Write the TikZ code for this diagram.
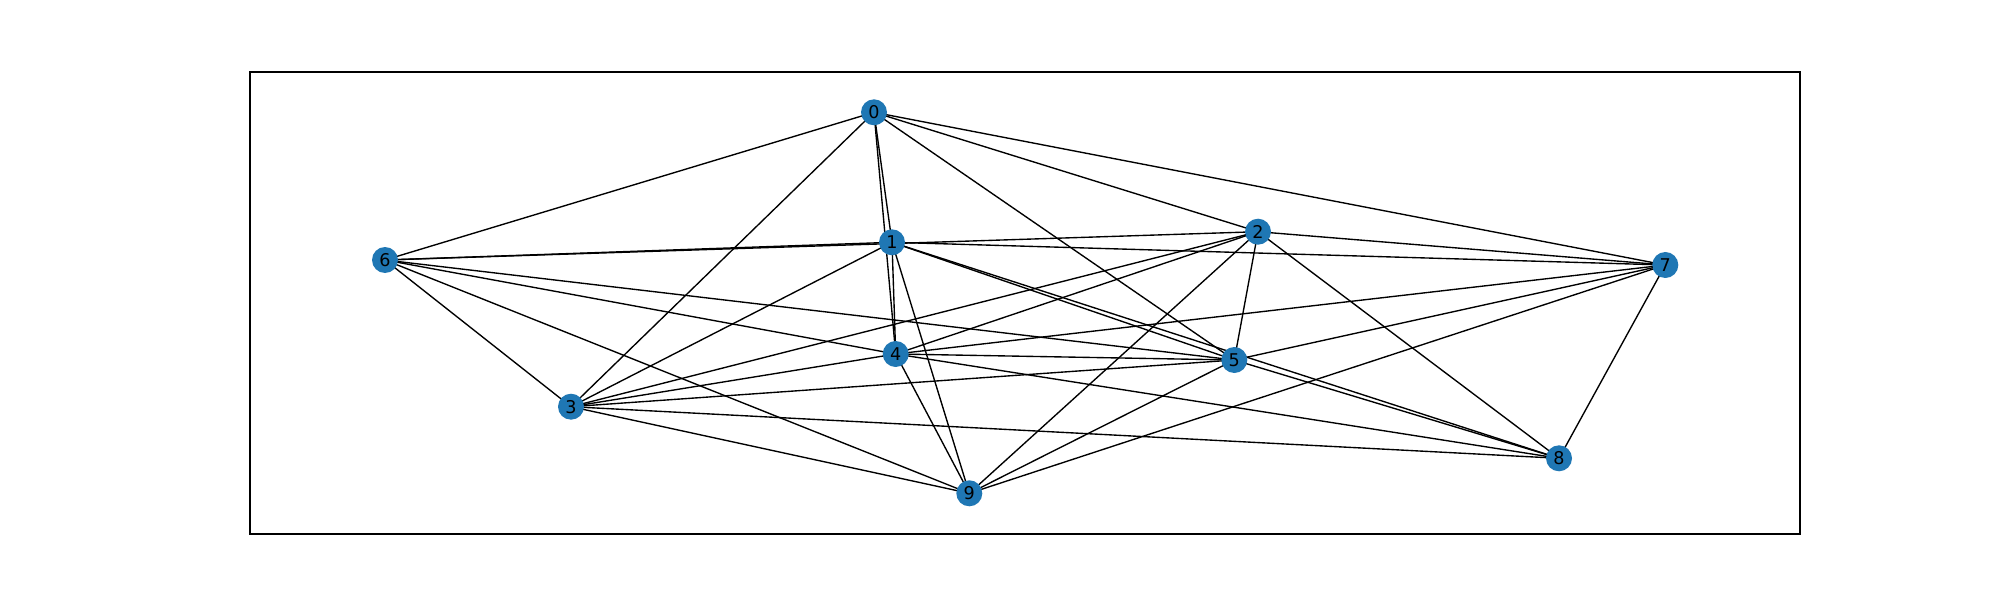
\documentclass[tikz,border=0pt]{standalone}
\usepackage{fontspec}
\setmainfont{DejaVu Sans}
\usetikzlibrary{backgrounds}
\definecolor{nodeblue}{HTML}{1F77B4}
\tikzset{
  vert/.style={circle, fill=nodeblue, inner sep=0pt, minimum size=0.26cm,
    font=\fontsize{5}{5}\selectfont},
  link/.style={draw, line width=0.39pt}
}
\begin{document}
\begin{tikzpicture}
\useasboundingbox (0,0) rectangle (20,6);
\draw[line width=0.31pt] (2.5,0.66) rectangle (18,5.28);
\node[vert] (0) at (8.74,4.877) {0};
\node[vert] (1) at (8.92,3.577) {1};
\node[vert] (2) at (12.58,3.683) {2};
\node[vert] (3) at (5.71,1.933) {3};
\node[vert] (4) at (8.957,2.46) {4};
\node[vert] (5) at (12.343,2.40) {5};
\node[vert] (6) at (3.85,3.40) {6};
\node[vert] (7) at (16.653,3.35) {7};
\node[vert] (8) at (15.59,1.417) {8};
\node[vert] (9) at (9.693,1.067) {9};
\begin{scope}[on background layer]
\foreach \a/\b in {0/1,0/2,0/3,0/4,0/5,0/6,0/7,
                   1/3,1/4,1/5,1/6,1/7,1/8,1/9,
                   2/3,2/4,2/5,2/6,2/7,2/8,2/9,
                   3/4,3/5,3/6,3/8,3/9,
                   4/5,4/6,4/7,4/8,4/9,
                   5/6,5/7,5/8,5/9,
                   7/8,7/9,6/9}
  \path[link] (\a.center) -- (\b.center);
\end{scope}
\end{tikzpicture}
\end{document}
